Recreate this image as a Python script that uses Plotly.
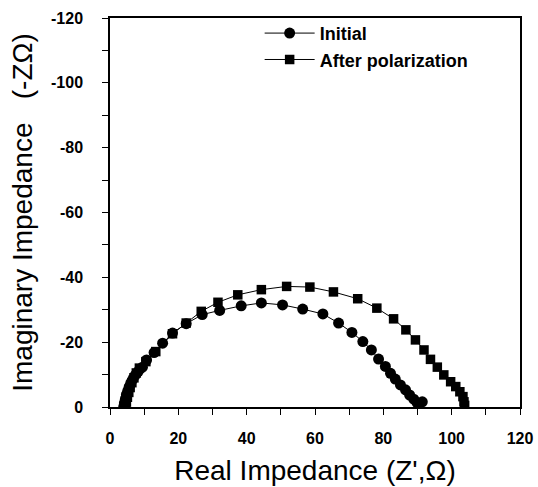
import plotly.graph_objects as go

# Initial (circles): real part and imaginary part (negative values, -Z'')
init_re = [4.0, 4.2, 4.5, 4.8, 5.2, 5.6, 6.1, 6.7, 7.4, 8.3, 9.5, 10.7, 12.9, 15.4,
           18.3, 22.3, 27.0, 32.1, 38.4, 44.3, 50.5, 56.4, 62.3, 66.9, 70.8, 74.0,
           76.5, 78.6, 80.6, 82.1, 83.5, 85.0, 86.5, 87.7, 88.9, 89.9, 91.4]
init_im = [0.0, -1.2, -2.5, -3.8, -5.0, -6.2, -7.4, -8.6, -9.8, -11.0, -12.3, -14.5,
           -16.8, -19.7, -22.8, -25.7, -28.5, -29.8, -31.2, -32.1, -31.5, -30.2, -28.7,
           -25.9, -23.0, -20.2, -17.6, -14.8, -12.5, -10.4, -8.6, -6.8, -5.3, -3.7,
           -2.4, -1.3, -1.6]

# After polarization (squares)
pol_re = [4.5, 4.8, 5.1, 5.5, 5.9, 6.4, 7.0, 7.7, 8.6, 10.5, 13.4, 18.3, 22.3, 26.7,
          31.6, 37.4, 44.3, 51.7, 58.5, 65.4, 72.5, 78.1, 83.0, 86.6, 89.4, 91.9,
          93.8, 95.8, 97.7, 99.7, 101.2, 102.4, 103.3, 103.6, 103.8]
pol_im = [0.0, -1.5, -3.0, -4.5, -6.0, -7.5, -9.0, -10.5, -12.0, -14.0, -17.1, -22.6,
          -25.9, -29.5, -32.3, -34.6, -36.2, -37.2, -37.0, -35.5, -33.4, -30.5, -27.2,
          -23.8, -20.7, -17.6, -14.7, -12.3, -9.9, -7.8, -6.3, -4.7, -3.2, -1.6, -0.5]

series_names = ["Initial", "After polarization"]

x_tickvals = [0, 20, 40, 60, 80, 100, 120]
x_ticktext = ["0", "20", "40", "60", "80", "100", "120"]
y_tickvals = [0, -20, -40, -60, -80, -100, -120]
y_ticktext = ["0", "-20", "-40", "-60", "-80", "-100", "-120"]

fig = go.Figure()
fig.add_trace(go.Scatter(x=init_re, y=init_im, mode="lines+markers", name=series_names[0],
                         line=dict(color="black", width=1),
                         marker=dict(symbol="circle", size=11, color="black")))
fig.add_trace(go.Scatter(x=pol_re, y=pol_im, mode="lines+markers", name=series_names[1],
                         line=dict(color="black", width=1),
                         marker=dict(symbol="square", size=9.5, color="black")))

tickfont = dict(family="Liberation Sans, Arial", size=16, color="black", weight="bold")
titlefont = dict(family="Liberation Sans, Arial", size=28, color="black")

fig.update_layout(
    width=538, height=487,
    margin=dict(l=110, r=18, t=18, b=80, autoexpand=False),
    paper_bgcolor="white", plot_bgcolor="white",
    showlegend=True,
    legend=dict(x=0.365, y=1.008, xanchor="left", yanchor="top",
                bgcolor="rgba(0,0,0,0)", font=dict(family="Liberation Sans, Arial", size=18,
                                                    color="black", weight="bold"),
                itemwidth=50, tracegroupgap=0),
    xaxis=dict(range=[0, 120], tickmode="array", tickvals=x_tickvals, ticktext=x_ticktext,
               automargin=False,
               ticks="outside", ticklen=6, tickwidth=1,
               tickcolor="black", showline=True, linecolor="black", linewidth=1.5,
               mirror=True, showgrid=False, zeroline=False, tickfont=tickfont,
               ticklabelstandoff=10, ticklabeloverflow="allow",
               minor=dict(dtick=10, tick0=0, ticks="outside", ticklen=6, tickcolor="black"),
               title=dict(text="Real Impedance (Z',Ω)", font=titlefont, standoff=14)),
    yaxis=dict(range=[0, -120], tickmode="array", tickvals=y_tickvals, ticktext=y_ticktext,
               automargin=False,
               ticks="outside", ticklen=6, tickwidth=1,
               tickcolor="black", showline=True, linecolor="black", linewidth=1.5,
               mirror=True, showgrid=False, zeroline=False, tickfont=tickfont,
               ticklabelstandoff=16, ticklabeloverflow="allow",
               minor=dict(dtick=10, tick0=0, ticks="outside", ticklen=6, tickcolor="black"),
               title=dict(text="Imaginary Impedance   (-ZΩ)", font=titlefont, standoff=10)),
)

fig.write_html("out.html", config={"displayModeBar": False},
               post_script="document.body.style.margin='0';document.body.style.overflow='hidden';"
                           "document.documentElement.style.overflow='hidden';")
